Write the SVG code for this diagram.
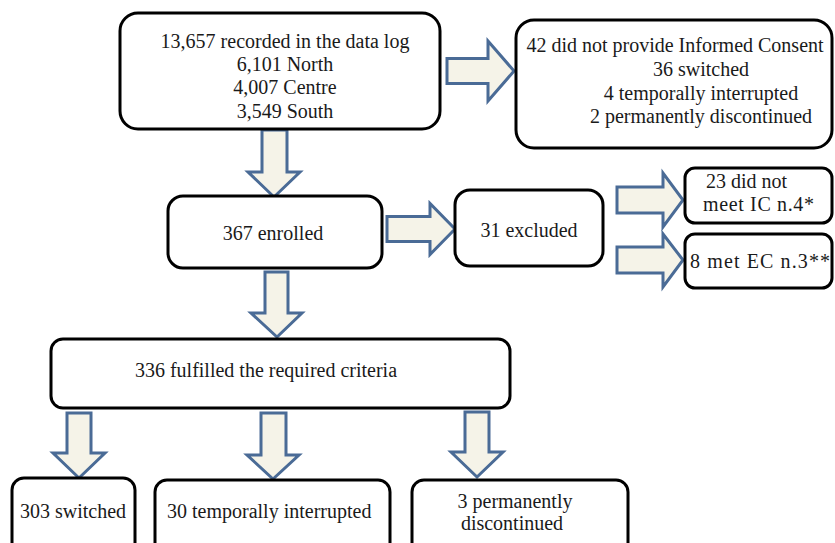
<svg xmlns="http://www.w3.org/2000/svg" width="835" height="543" viewBox="0 0 835 543">
  <style>
    .box { fill: #ffffff; stroke: #000000; stroke-width: 3; }
    .arrow { fill: #f5f3e8; stroke: #4a6b96; stroke-width: 3; stroke-linejoin: miter; }
    text { font-family: 'Liberation Serif', 'DejaVu Serif', serif; font-size: 20px; fill: #1a1a1a; }
    .c { text-anchor: middle; }
  </style>
  <rect width="835" height="543" fill="#ffffff"/>
  <g id="connectors">
    <path class="arrow" d="M447,58.5 L488,58.5 L488,41 L514,71 L488,101 L488,83.5 L447,83.5 Z"/>
    <path class="arrow" d="M262,130 L287,130 L287,172 L300,172 L274,197 L248,172 L262,172 Z"/>
    <path class="arrow" d="M387,216.5 L430,216.5 L430,203.5 L455,229 L430,254.5 L430,241.5 L387,241.5 Z"/>
    <path class="arrow" d="M617,187 L663,187 L663,173 L683,200 L663,227 L663,213 L617,213 Z"/>
    <path class="arrow" d="M617,247 L663,247 L663,234 L683,260 L663,287 L663,273 L617,273 Z"/>
    <path class="arrow" d="M265,272 L288,272 L288,313 L302,313 L277,337 L251,313 L265,313 Z"/>
    <path class="arrow" d="M67,413 L91,413 L91,453 L105,453 L79,478 L53,453 L67,453 Z"/>
    <path class="arrow" d="M261,413 L286,413 L286,455 L299,455 L273,479 L247,455 L261,455 Z"/>
    <path class="arrow" d="M465,412 L489,412 L489,452 L503,452 L477,477 L451,452 L465,452 Z"/>
  </g>
  <g id="recorded">
    <rect class="box" x="120" y="13" width="320" height="116" rx="18"/>
    <text class="c" x="285" y="48">13,657 recorded in the data log</text>
    <text class="c" x="285" y="71">6,101 North</text>
    <text class="c" x="285" y="94">4,007 Centre</text>
    <text class="c" x="285" y="118">3,549 South</text>
  </g>
  <g id="no-consent">
    <rect class="box" x="516" y="20" width="316" height="128" rx="18"/>
    <text class="c" x="675" y="52">42 did not provide Informed Consent</text>
    <text class="c" x="701" y="76">36 switched</text>
    <text class="c" x="701" y="100">4 temporally interrupted</text>
    <text class="c" x="701" y="123">2 permanently discontinued</text>
  </g>
  <g id="enrolled">
    <rect class="box" x="168" y="196" width="214" height="72" rx="15"/>
    <text class="c" x="273" y="240">367 enrolled</text>
  </g>
  <g id="excluded">
    <rect class="box" x="455" y="190" width="148" height="76" rx="15"/>
    <text class="c" x="529" y="237">31 excluded</text>
  </g>
  <g id="ic4">
    <rect class="box" x="685" y="168" width="147" height="55" rx="10"/>
    <text x="706" y="188">23 did not</text>
    <text x="703" y="211" textLength="111" lengthAdjust="spacing">meet IC n.4*</text>
  </g>
  <g id="ec3">
    <rect class="box" x="685" y="234" width="147" height="54" rx="10"/>
    <text x="690" y="268" textLength="140" lengthAdjust="spacing">8 met EC n.3**</text>
  </g>
  <g id="fulfilled">
    <rect class="box" x="51" y="339" width="459" height="69" rx="12"/>
    <text class="c" x="266" y="377">336 fulfilled the required criteria</text>
  </g>
  <g id="switched">
    <rect class="box" x="12" y="478" width="123" height="90" rx="12"/>
    <text x="20" y="518">303 switched</text>
  </g>
  <g id="interrupted">
    <rect class="box" x="155" y="480" width="235" height="90" rx="12"/>
    <text x="167" y="518">30 temporally interrupted</text>
  </g>
  <g id="discontinued">
    <rect class="box" x="412" y="480" width="216" height="90" rx="12"/>
    <text class="c" x="515" y="508">3 permanently</text>
    <text class="c" x="512" y="530">discontinued</text>
  </g>
</svg>
